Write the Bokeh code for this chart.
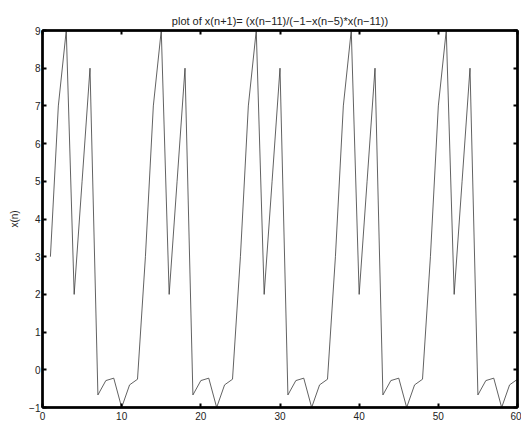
from bokeh.plotting import figure
from bokeh.models import LinearAxis, FixedTicker, Range1d, Title, Label
from bokeh.embed import file_html
from bokeh.resources import INLINE

# sample index
n_values = list(range(1, 61))
# sequence values (one row per repeat)
x_values = [
    3, 7, 9, 2, 5, 8, -0.667, -0.286, -0.222, -1, -0.4, -0.25,
    3, 7, 9, 2, 5, 8, -0.667, -0.286, -0.222, -1, -0.4, -0.25,
    3, 7, 9, 2, 5, 8, -0.667, -0.286, -0.222, -1, -0.4, -0.25,
    3, 7, 9, 2, 5, 8, -0.667, -0.286, -0.222, -1, -0.4, -0.25,
    3, 7, 9, 2, 5, 8, -0.667, -0.286, -0.222, -1, -0.4, -0.25,
]
x_ticks = [0, 10, 20, 30, 40, 50, 60]
y_ticks = [-1, 0, 1, 2, 3, 4, 5, 6, 7, 8, 9]
y_tick_labels = {-1: "\u22121"}
title_text = "plot of x(n+1)= (x(n\u221211)/(\u22121\u2212x(n\u22125)*x(n\u221211))"
x_label = "n"
y_label = "x(n)"

FONT = "Liberation Sans"

p = figure(width=521, height=430, output_backend="svg", toolbar_location=None,
           x_range=Range1d(0, 60), y_range=Range1d(-1, 9),
           min_border_left=42, min_border_right=4, min_border_top=30,
           min_border_bottom=23, x_axis_location=None, y_axis_location=None)
p.grid.visible = False
p.outline_line_color = "black"
p.outline_line_width = 2
p.background_fill_color = "white"
p.border_fill_color = "white"

def style(ax, labels=True):
    ax.axis_line_color = "black"
    ax.axis_line_width = 2.5
    ax.major_tick_in = 4
    ax.major_tick_out = 0
    ax.major_tick_line_width = 2
    ax.major_tick_line_color = "black"
    ax.minor_tick_line_color = None
    if labels:
        ax.major_label_text_font = FONT
        ax.major_label_text_font_size = "10px"
        ax.major_label_text_color = "#222222"
    else:
        ax.major_label_text_font_size = "0px"
        ax.major_label_standoff = 0
        ax.major_label_text_alpha = 0

bottom = LinearAxis(ticker=FixedTicker(ticks=x_ticks))
style(bottom)
bottom.major_label_standoff = 4
p.add_layout(bottom, "below")

left = LinearAxis(ticker=FixedTicker(ticks=y_ticks), axis_label=y_label)
style(left)
left.major_label_standoff = 2
left.major_label_overrides = y_tick_labels
left.axis_label_text_font = FONT
left.axis_label_text_font_size = "10px"
left.axis_label_text_font_style = "normal"
left.axis_label_text_color = "#222222"
left.axis_label_standoff = 6
p.add_layout(left, "left")

top = LinearAxis(ticker=FixedTicker(ticks=x_ticks))
style(top, labels=False)
p.add_layout(top, "above")

right = LinearAxis(ticker=FixedTicker(ticks=y_ticks))
style(right, labels=False)
p.add_layout(right, "right")

t = Title(text=title_text, align="center", text_font=FONT,
          text_font_size="11px", text_font_style="normal",
          text_color="#222222", standoff=7)
p.add_layout(t, "above")

p.line(n_values, x_values, line_color="#3a3a3a", line_width=0.8)

p.add_layout(Label(x=30, y=-17, x_units="data", y_units="screen", text=x_label,
                   text_font=FONT, text_font_size="10px", text_color="#222222",
                   text_align="center", text_baseline="top"))

open("out.html", "w").write(file_html(p, INLINE))
